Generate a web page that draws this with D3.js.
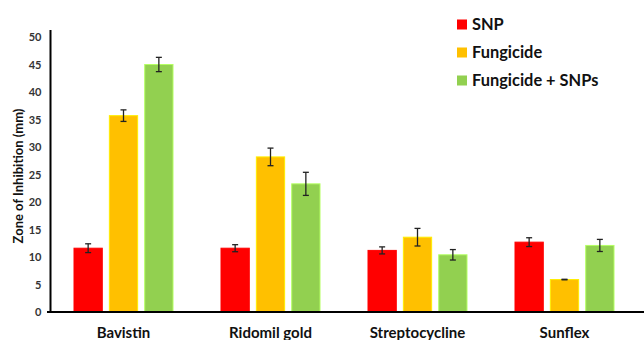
<!DOCTYPE html>
<html><head><meta charset="utf-8">
<script src="https://cdn.jsdelivr.net/npm/d3@7"></script>
<style>body{margin:0;background:#fff}svg{display:block}</style>
</head><body>
<svg id="c" width="644" height="340"></svg>
<script>
const categories = ["Bavistin", "Ridomil gold", "Streptocycline", "Sunflex"];
const seriesNames = ["SNP", "Fungicide", "Fungicide + SNPs"];
const snp = [11.6, 11.6, 11.2, 12.7];
const snpErr = [0.8, 0.64, 0.64, 0.8];
const fungicide = [35.7, 28.2, 13.6, 5.9];
const fungicideErr = [1.05, 1.6, 1.6, 0.05];
const combo = [45.0, 23.3, 10.4, 12.1];
const comboErr = [1.3, 2.1, 0.95, 1.1];
const yTicks = [0, 5, 10, 15, 20, 25, 30, 35, 40, 45, 50];
const colors = ["#FF0000", "#FFC000", "#92D050"];

const values = [snp, fungicide, combo];
const errs = [snpErr, fungicideErr, comboErr];
const svg = d3.select("#c");
const font = "Lato, 'Open Sans', sans-serif";

const x = d3.scaleBand().domain(categories).range([50, 638]).paddingInner(0).paddingOuter(0);
const x1 = d3.scaleBand().domain(seriesNames).range([0, 99]).paddingInner(0.2);
const y = d3.scaleLinear().domain([0, 50]).range([312, 37]);

const groupW = 99;
const g = svg.append("g");
seriesNames.forEach((s, si) => {
  categories.forEach((c, ci) => {
    const bx = x(c) + (x.bandwidth() - groupW) / 2 + x1(s);
    const v = values[si][ci], e = errs[si][ci];
    g.append("rect")
      .attr("x", bx).attr("y", y(v))
      .attr("width", x1.bandwidth()).attr("height", y(0) - y(v))
      .attr("fill", colors[si])
      .attr("stroke", d3.color(colors[si]).brighter(0.6))
      .attr("stroke-width", 1);
    const cx = bx + x1.bandwidth() / 2;
    const eg = g.append("g").attr("stroke", "#222").attr("stroke-width", 1.3);
    eg.append("line").attr("x1", cx).attr("x2", cx).attr("y1", y(v + e)).attr("y2", y(v - e));
    eg.append("line").attr("x1", cx - 3).attr("x2", cx + 3).attr("y1", y(v + e)).attr("y2", y(v + e));
    eg.append("line").attr("x1", cx - 3).attr("x2", cx + 3).attr("y1", y(v - e)).attr("y2", y(v - e));
  });
});

// axes
const yAxis = d3.axisLeft(y).tickValues(yTicks).tickSize(0).tickPadding(9);
const ya = svg.append("g").attr("transform", "translate(50.5,0)").call(yAxis);
ya.select(".domain").remove();
ya.selectAll("text").attr("font-family", font).attr("font-weight", "bold").attr("font-size", 11).attr("fill", "#333");
svg.append("line").attr("x1", 50.5).attr("x2", 50.5).attr("y1", 30).attr("y2", 313).attr("stroke", "#000").attr("stroke-width", 2);
svg.append("line").attr("x1", 47).attr("x2", 644).attr("y1", y(0)).attr("y2", y(0)).attr("stroke", "#000").attr("stroke-width", 2);

const xAxis = d3.axisBottom(x).tickSize(0).tickPadding(15);
const xa = svg.append("g").attr("transform", `translate(0,${y(0)})`).call(xAxis);
xa.select(".domain").remove();
xa.selectAll("text").attr("font-family", font).attr("font-weight", "bold").attr("font-size", 15).attr("fill", "#111");

svg.append("text")
  .attr("transform", "translate(23,176) rotate(-90)")
  .attr("text-anchor", "middle")
  .attr("font-family", font).attr("font-weight", "bold").attr("font-size", 13).attr("fill", "#111")
  .text("Zone of Inhibition (mm)");

// legend
const lg = svg.append("g");
seriesNames.forEach((s, i) => {
  const ly = 24.5 + i * 28;
  lg.append("rect").attr("x", 457).attr("y", ly - 5).attr("width", 10).attr("height", 10).attr("fill", colors[i]);
  lg.append("text").attr("x", 472).attr("y", ly).attr("dy", "0.35em")
    .attr("font-family", font).attr("font-weight", "bold").attr("font-size", 16.4).attr("fill", "#111")
    .text(s);
});
</script>
</body></html>
